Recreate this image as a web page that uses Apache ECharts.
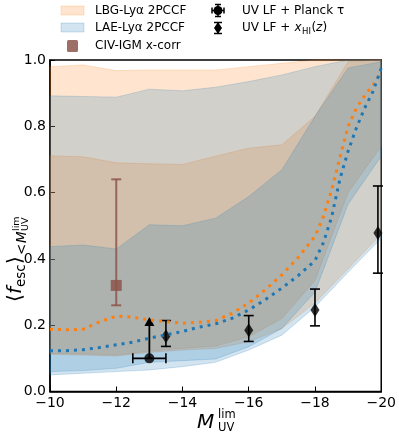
<!DOCTYPE html>
<html lang="en">
<head>
<meta charset="UTF-8">
<title>fesc vs MUV lim</title>
<script src="https://cdn.jsdelivr.net/npm/echarts@6/dist/echarts.min.js"></script>
<style>
  html, body { margin: 0; padding: 0; background: #fff; }
  #chart { width: 399px; height: 436px; }
</style>
</head>
<body>
<div id="chart"></div>
<script>
// magnitude grid of the shaded bands
var bandX = [-10, -11, -12, -13, -14, -15, -16, -17, -18, -19, -20];
// LBG-Lya 2PCCF (outer and inner band)
var lbg95Lo = [0.112, 0.110, 0.107, 0.118, 0.125, 0.130, 0.150, 0.190, 0.267, 0.370, 0.475];
var lbg95Hi = [0.980, 0.985, 0.968, 0.970, 0.970, 0.970, 0.980, 0.990, 1.000, 1.000, 1.000];
var lbg68Lo = [0.115, 0.113, 0.110, 0.122, 0.130, 0.137, 0.165, 0.220, 0.335, 0.600, 0.740];
var lbg68Hi = [0.711, 0.708, 0.690, 0.687, 0.685, 0.710, 0.734, 0.744, 0.830, 0.995, 1.000];
// LAE-Lya 2PCCF
var lae95Lo = [0.050, 0.055, 0.060, 0.065, 0.075, 0.088, 0.125, 0.170, 0.255, 0.360, 0.462];
var lae95Hi = [0.892, 0.890, 0.888, 0.912, 0.907, 0.918, 0.935, 0.955, 0.980, 1.000, 1.000];
var lae68Lo = [0.060, 0.063, 0.070, 0.088, 0.093, 0.098, 0.135, 0.190, 0.300, 0.565, 0.710];
var lae68Hi = [0.437, 0.442, 0.430, 0.503, 0.500, 0.523, 0.588, 0.669, 0.830, 0.976, 0.995];

// dotted median curves
var lineX = [-10, -10.5, -11, -11.5, -12, -12.5, -13, -13.5, -14, -14.5, -15,
             -15.5, -16, -16.5, -17, -17.5, -18, -18.25, -18.5, -18.75, -19,
             -19.25, -19.5, -19.75, -20];
var lbgMed = [0.188, 0.186, 0.188, 0.210, 0.228, 0.224, 0.216, 0.211, 0.206, 0.209, 0.214,
              0.236, 0.267, 0.307, 0.352, 0.405, 0.468, 0.527, 0.607, 0.705, 0.800,
              0.855, 0.893, 0.925, 0.962];
var laeMed = [0.123, 0.123, 0.126, 0.133, 0.141, 0.149, 0.161, 0.171, 0.181, 0.194, 0.204,
              0.221, 0.246, 0.277, 0.312, 0.350, 0.395, 0.448, 0.525, 0.640, 0.725,
              0.795, 0.855, 0.905, 0.975];

// CIV-IGM x-corr
var civX = [-12];
var civY = [0.32];
var civLo = [0.26];
var civHi = [0.64];

// UV LF + Planck tau (lower limit)
var planckX = [-13];
var planckY = [0.10];
var planckXLo = [-12.5];
var planckXHi = [-13.5];
var planckLim = [0.225];

// UV LF + xHI(z)
var xhiX = [-13.5, -16, -18, -19.9];
var xhiY = [0.167, 0.185, 0.246, 0.478];
var xhiLo = [0.136, 0.151, 0.198, 0.357];
var xhiHi = [0.214, 0.229, 0.309, 0.620];

var ORANGE = 'rgba(255,127,14,0.2)';
var BLUE = 'rgba(31,119,180,0.2)';
var BROWN = '#8c564b';
var FONT = 'DejaVu Sans';

function bandSeries(lo, hi, color) {
    return {
        type: 'custom',
        silent: true,
        data: [[bandX[0], lo[0]]],
        renderItem: function (params, api) {
            var pts = [];
            for (var i = 0; i < bandX.length; i++) pts.push(api.coord([bandX[i], hi[i]]));
            for (var j = bandX.length - 1; j >= 0; j--) pts.push(api.coord([bandX[j], lo[j]]));
            return {
                type: 'polygon',
                shape: {points: pts},
                style: {fill: color, stroke: color, lineWidth: 1}
            };
        }
    };
}

function pairs(xs, ys) {
    return xs.map(function (x, i) { return [x, ys[i]]; });
}

function seg(x1, y1, x2, y2, color, w) {
    return {type: 'line', shape: {x1: x1, y1: y1, x2: x2, y2: y2},
            style: {stroke: color, lineWidth: w}};
}

// vertical error bars with caps
function errSeries(xs, lo, hi, color, w, cap) {
    return {
        type: 'custom',
        silent: true,
        data: xs.map(function (x, i) { return [x, lo[i], hi[i]]; }),
        renderItem: function (params, api) {
            var a = api.coord([api.value(0), api.value(1)]);
            var b = api.coord([api.value(0), api.value(2)]);
            return {type: 'group', children: [
                seg(a[0], a[1], b[0], b[1], color, w),
                seg(a[0] - cap, a[1], a[0] + cap, a[1], color, w),
                seg(b[0] - cap, b[1], b[0] + cap, b[1], color, w)
            ]};
        }
    };
}

var planckSeries = {
    type: 'custom',
    silent: true,
    data: planckX.map(function (x, i) { return [x, planckY[i], planckXLo[i], planckXHi[i], planckLim[i]]; }),
    renderItem: function (params, api) {
        var c = api.coord([api.value(0), api.value(1)]);
        var l = api.coord([api.value(2), api.value(1)]);
        var r = api.coord([api.value(3), api.value(1)]);
        var t = api.coord([api.value(0), api.value(4)]);
        return {type: 'group', children: [
            seg(l[0], l[1], r[0], r[1], '#000', 1.6),
            seg(l[0], l[1] - 5, l[0], l[1] + 5, '#000', 1.6),
            seg(r[0], r[1] - 5, r[0], r[1] + 5, '#000', 1.6),
            seg(c[0], c[1], t[0], t[1] + 6, '#000', 1.8),
            {type: 'polygon', shape: {points: [[t[0], t[1]], [t[0] - 5, t[1] + 9], [t[0] + 5, t[1] + 9]]},
             style: {fill: '#000'}}
        ]};
    }
};

var chart = echarts.init(document.getElementById('chart'), null, {renderer: 'canvas'});

var txt = function (x, y, s, size, extra) {
    var st = {text: s, x: x, y: y, fill: '#000', font: size + 'px "' + FONT + '"',
              verticalAlign: 'middle', align: 'left'};
    if (extra) for (var k in extra) st[k] = extra[k];
    return {type: 'text', style: st};
};
var ital = function (size) { return 'italic ' + size + 'px "' + FONT + '"'; };

var option = {
    animation: false,
    grid: {left: 50, top: 60, width: 333.3, height: 331.5, show: true,
           borderColor: '#000', borderWidth: 1.5, backgroundColor: 'transparent'},
    xAxis: {
        type: 'value', min: -20, max: -10, interval: 2, inverse: true,
        axisLine: {show: true, lineStyle: {color: '#000', width: 1.5}},
        axisTick: {show: true, inside: true, length: 5, lineStyle: {color: '#000', width: 1}},
        axisLabel: {color: '#000', fontFamily: FONT, fontSize: 14, margin: 5,
                    formatter: function (v) { return (v < 0 ? '\u2212' : '') + Math.abs(v); }},
        splitLine: {show: false}
    },
    yAxis: {
        type: 'value', min: 0, max: 1, interval: 0.2,
        axisLine: {show: true, lineStyle: {color: '#000', width: 1.5}},
        axisTick: {show: true, inside: true, length: 5, lineStyle: {color: '#000', width: 1}},
        axisLabel: {color: '#000', fontFamily: FONT, fontSize: 14, margin: 4,
                    formatter: function (v) { return v.toFixed(1); }},
        splitLine: {show: false}
    },
    series: [
        bandSeries(lbg95Lo, lbg95Hi, ORANGE),
        bandSeries(lbg68Lo, lbg68Hi, ORANGE),
        bandSeries(lae95Lo, lae95Hi, BLUE),
        bandSeries(lae68Lo, lae68Hi, BLUE),
        {type: 'line', data: pairs(lineX, lbgMed), showSymbol: false, silent: true,
         lineStyle: {color: '#ff7f0e', width: 3, type: [3, 5]}},
        {type: 'line', data: pairs(lineX, laeMed), showSymbol: false, silent: true,
         lineStyle: {color: '#1f77b4', width: 3, type: [3, 5]}},
        errSeries(civX, civLo, civHi, 'rgba(140,86,75,0.85)', 2, 5),
        {type: 'scatter', data: pairs(civX, civY), symbol: 'rect', symbolSize: 11, silent: true,
         itemStyle: {color: BROWN, opacity: 0.85}},
        errSeries(xhiX, xhiLo, xhiHi, '#000', 1.6, 5),
        {type: 'scatter', data: pairs(xhiX, xhiY), symbol: 'diamond', symbolSize: [9, 14], silent: true,
         itemStyle: {color: '#000'}},
        planckSeries,
        {type: 'scatter', data: pairs(planckX, planckY), symbol: 'circle', symbolSize: 10, silent: true,
         itemStyle: {color: '#000'}}
    ],
    graphic: [
        // legend, left column
        {type: 'rect', shape: {x: 61, y: 6, width: 23, height: 9}, style: {fill: ORANGE, stroke: ORANGE}},
        {type: 'rect', shape: {x: 61, y: 23, width: 23, height: 9}, style: {fill: BLUE, stroke: BLUE}},
        {type: 'rect', shape: {x: 67, y: 40, width: 11, height: 12, r: 1.5}, style: {fill: BROWN, opacity: 0.85}},
        txt(95, 11, 'LBG-Ly\u03b1 2PCCF', 12),
        txt(95, 28, 'LAE-Ly\u03b1 2PCCF', 12),
        txt(95, 46, 'CIV-IGM x-corr', 12),
        // legend, right column
        {type: 'circle', shape: {cx: 218, cy: 10.5, r: 4.5}, style: {fill: '#000'}},
        {type: 'line', shape: {x1: 212, y1: 10.5, x2: 224, y2: 10.5}, style: {stroke: '#000', lineWidth: 1.5}},
        {type: 'line', shape: {x1: 218, y1: 4.5, x2: 218, y2: 16.5}, style: {stroke: '#000', lineWidth: 1.5}},
        {type: 'line', shape: {x1: 215, y1: 4.5, x2: 221, y2: 4.5}, style: {stroke: '#000', lineWidth: 1.5}},
        {type: 'line', shape: {x1: 215, y1: 16.5, x2: 221, y2: 16.5}, style: {stroke: '#000', lineWidth: 1.5}},
        {type: 'line', shape: {x1: 212, y1: 7.5, x2: 212, y2: 13.5}, style: {stroke: '#000', lineWidth: 1.5}},
        {type: 'line', shape: {x1: 224, y1: 7.5, x2: 224, y2: 13.5}, style: {stroke: '#000', lineWidth: 1.5}},
        {type: 'polygon', shape: {points: [[218, 22], [222, 28], [218, 34], [214, 28]]}, style: {fill: '#000'}},
        {type: 'line', shape: {x1: 218, y1: 22, x2: 218, y2: 34}, style: {stroke: '#000', lineWidth: 1.5}},
        {type: 'line', shape: {x1: 214, y1: 22.5, x2: 222, y2: 22.5}, style: {stroke: '#000', lineWidth: 1.5}},
        {type: 'line', shape: {x1: 214, y1: 33.5, x2: 222, y2: 33.5}, style: {stroke: '#000', lineWidth: 1.5}},
        txt(242, 11, 'UV LF + Planck \u03c4', 12),
        txt(242, 28, 'UV LF +', 12),
        txt(294.5, 28, 'x', 12, {font: ital(12)}),
        txt(302, 31.5, 'HI', 8.5),
        txt(311.5, 28, '(', 12),
        txt(316, 28, 'z', 12, {font: ital(12)}),
        txt(322.5, 28, ')', 12),
        // x-axis title
        txt(197, 423, 'M', 20, {font: ital(20)}),
        txt(218, 415, 'lim', 11.5),
        txt(218, 428, 'UV', 11.5),
        // y-axis title, rotated
        {type: 'group', x: 16, y: 302, rotation: Math.PI / 2, children: [
            txt(0, 0, '\u27e8', 20),
            txt(8, 0, 'f', 20, {font: ital(20)}),
            txt(15, 5, 'esc', 13.5),
            txt(38, 0, '\u27e9', 20),
            txt(47, 6, '<', 13.5),
            txt(59, 6, 'M', 13.5, {font: ital(13.5)}),
            txt(71, 1, 'lim', 9.5),
            txt(71, 10, 'UV', 9.5)
        ]}
    ]
};
chart.setOption(option);
</script>
</body>
</html>
